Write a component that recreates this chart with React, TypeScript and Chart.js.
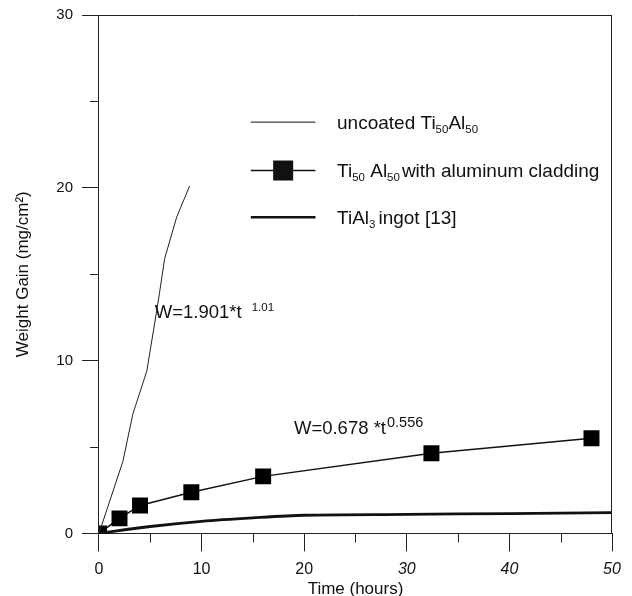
import { useEffect, useRef } from 'react';
import { Chart, registerables } from 'chart.js';

Chart.register(...registerables);

// ---- data ----
const uncoatedTime = [0, 2.33, 3.3, 4.66, 5.63, 5.92, 6.4, 7.57, 8.83];
const uncoatedGain = [0, 4.17, 6.9, 9.4, 12.9, 14.0, 15.9, 18.3, 20.1];
const cladTime = [0, 2, 4, 9, 16, 32.4, 48];
const cladGain = [0, 0.87, 1.62, 2.38, 3.3, 4.64, 5.5];
const ingotTime = [0, 5, 10, 15, 20, 30, 40, 50];
const ingotGain = [0, 0.4, 0.7, 0.9, 1.05, 1.1, 1.15, 1.2];
const xMinorTicks = [5, 15, 25, 35, 45];
const yMinorTicks = [5, 15, 25];

const FAMILY = '"Liberation Sans", Arial, Helvetica, sans-serif';
const INK = '#111';
const AXIS = '#222';

type Piece = { t: string; sub?: boolean; sup?: boolean; gap?: number };

function drawRich(ctx: CanvasRenderingContext2D, pieces: Piece[], x: number, y: number, size: number, subSize: number) {
  let cx = x;
  for (const p of pieces) {
    if (p.gap) cx += p.gap;
    if (p.sub) {
      ctx.font = `${subSize}px ${FAMILY}`;
      ctx.fillText(p.t, cx, y + size * 0.22);
    } else if (p.sup) {
      ctx.font = `${subSize}px ${FAMILY}`;
      ctx.fillText(p.t, cx, y - size * 0.38);
    } else {
      ctx.font = `${size}px ${FAMILY}`;
      ctx.fillText(p.t, cx, y);
    }
    cx += ctx.measureText(p.t).width;
  }
}

const overlay = {
  id: 'overlay',
  afterDraw(chart: any) {
    const { ctx, chartArea: a, scales } = chart;
    const x = scales.x;
    const y = scales.y;
    ctx.save();
    ctx.strokeStyle = AXIS;
    ctx.lineWidth = 1;
    ctx.beginPath();
    // top and right frame
    ctx.moveTo(a.left, Math.round(a.top) + 0.5);
    ctx.lineTo(a.right, Math.round(a.top) + 0.5);
    ctx.moveTo(Math.round(a.right) - 0.5, a.top);
    ctx.lineTo(Math.round(a.right) - 0.5, a.bottom);
    // minor ticks
    for (const v of xMinorTicks) {
      const px = Math.round(x.getPixelForValue(v)) + 0.5;
      ctx.moveTo(px, a.bottom);
      ctx.lineTo(px, a.bottom + 9);
    }
    for (const v of yMinorTicks) {
      const py = Math.round(y.getPixelForValue(v)) + 0.5;
      ctx.moveTo(a.left, py);
      ctx.lineTo(a.left - 9, py);
    }
    ctx.stroke();

    // legend
    ctx.fillStyle = INK;
    ctx.textBaseline = 'alphabetic';
    ctx.textAlign = 'left';
    const lx0 = x.getPixelForValue(14.8);
    const lx1 = x.getPixelForValue(21.1);
    const tx = x.getPixelForValue(23.2);
    const rows = [
      { yv: 23.8, w: 1, marker: false, text: [{ t: 'uncoated Ti' }, { t: '50', sub: true }, { t: 'Al' }, { t: '50', sub: true }] },
      { yv: 21.0, w: 1.5, marker: true, text: [{ t: 'Ti' }, { t: '50', sub: true }, { t: ' Al' }, { t: '50', sub: true }, { t: 'with aluminum cladding', gap: 2 }] },
      { yv: 18.3, w: 2.5, marker: false, text: [{ t: 'TiAl' }, { t: '3', sub: true }, { t: 'ingot [13]', gap: 3 }] },
    ];
    for (const r of rows) {
      const py = y.getPixelForValue(r.yv);
      ctx.strokeStyle = INK;
      ctx.lineWidth = r.w;
      ctx.beginPath();
      ctx.moveTo(lx0, py);
      ctx.lineTo(lx1, py);
      ctx.stroke();
      if (r.marker) {
        const cx = (lx0 + lx1) / 2;
        ctx.fillRect(cx - 10, py - 10, 20, 20);
      }
      drawRich(ctx, r.text as Piece[], tx, py + 6.5, 19, 11.5);
    }

    // fit annotations
    drawRich(ctx, [{ t: 'W=1.901*t' }, { t: '1.01', sup: true, gap: 10 }], x.getPixelForValue(5.44), y.getPixelForValue(12.48), 18.5, 11.5);
    drawRich(ctx, [{ t: 'W=0.678 *t' }, { t: '0.556', sup: true, gap: 1 }], x.getPixelForValue(19.0), y.getPixelForValue(5.75), 18.5, 14.5);
    ctx.restore();
  },
};

export default function App() {
  const ref = useRef<HTMLCanvasElement | null>(null);
  useEffect(() => {
    if (!ref.current) return;
    const pts = (xs: number[], ys: number[]) => xs.map((v, i) => ({ x: v, y: ys[i] }));
    const chart = new Chart(ref.current, {
      type: 'line',
      data: {
        datasets: [
          {
            label: 'TiAl3 ingot [13]',
            data: pts(ingotTime, ingotGain),
            borderColor: INK,
            borderWidth: 2.8,
            pointRadius: 0,
            tension: 0.3,
          },
          {
            label: 'uncoated Ti50Al50',
            data: pts(uncoatedTime, uncoatedGain),
            borderColor: '#222',
            borderWidth: 1,
            pointRadius: 0,
          },
          {
            label: 'Ti50Al50 with aluminum cladding',
            data: pts(cladTime, cladGain),
            borderColor: INK,
            borderWidth: 1.5,
            pointStyle: 'rect',
            pointRadius: 11.3,
            pointBorderWidth: 0,
            pointBackgroundColor: '#000',
          },
        ],
      },
      options: {
        responsive: false,
        animation: false,
        layout: { padding: { left: 0, right: 20, top: 15, bottom: 0 } },
        plugins: { legend: { display: false }, tooltip: { enabled: false } },
        scales: {
          x: {
            type: 'linear',
            min: 0,
            max: 50,
            ticks: {
              stepSize: 10,
              padding: 9,
              color: INK,
              font: (c: any) => ({ family: FAMILY, size: 16, style: c.tick && c.tick.value >= 30 ? 'italic' : 'normal' }),
            },
            grid: { drawOnChartArea: false, drawTicks: true, tickLength: 18, color: AXIS, lineWidth: 1 },
            border: { display: true, color: AXIS, width: 1 },
            title: {
              display: true,
              text: 'Time (hours)',
              color: INK,
              font: { family: FAMILY, size: 17, lineHeight: 1 },
              padding: { top: -7.6, bottom: -2 },
            },
          },
          y: {
            type: 'linear',
            min: 0,
            max: 30,
            ticks: { stepSize: 10, padding: 9, color: INK, font: { family: FAMILY, size: 15, lineHeight: 0.7 } },
            grid: { drawOnChartArea: false, drawTicks: true, tickLength: 17, color: AXIS, lineWidth: 1 },
            border: { display: true, color: AXIS, width: 1 },
            title: {
              display: true,
              text: 'Weight Gain (mg/cm²)',
              color: INK,
              font: { family: FAMILY, size: 17, lineHeight: 1 },
              padding: { top: 14.5, bottom: 15.8 },
            },
          },
        },
      },
      plugins: [overlay],
    } as any);
    return () => chart.destroy();
  }, []);
  return (
    <div style={{ position: 'fixed', left: 0, top: 0, width: 632, height: 596, background: '#fff' }}>
      <canvas ref={ref} width={632} height={596} style={{ display: 'block' }} />
    </div>
  );
}
